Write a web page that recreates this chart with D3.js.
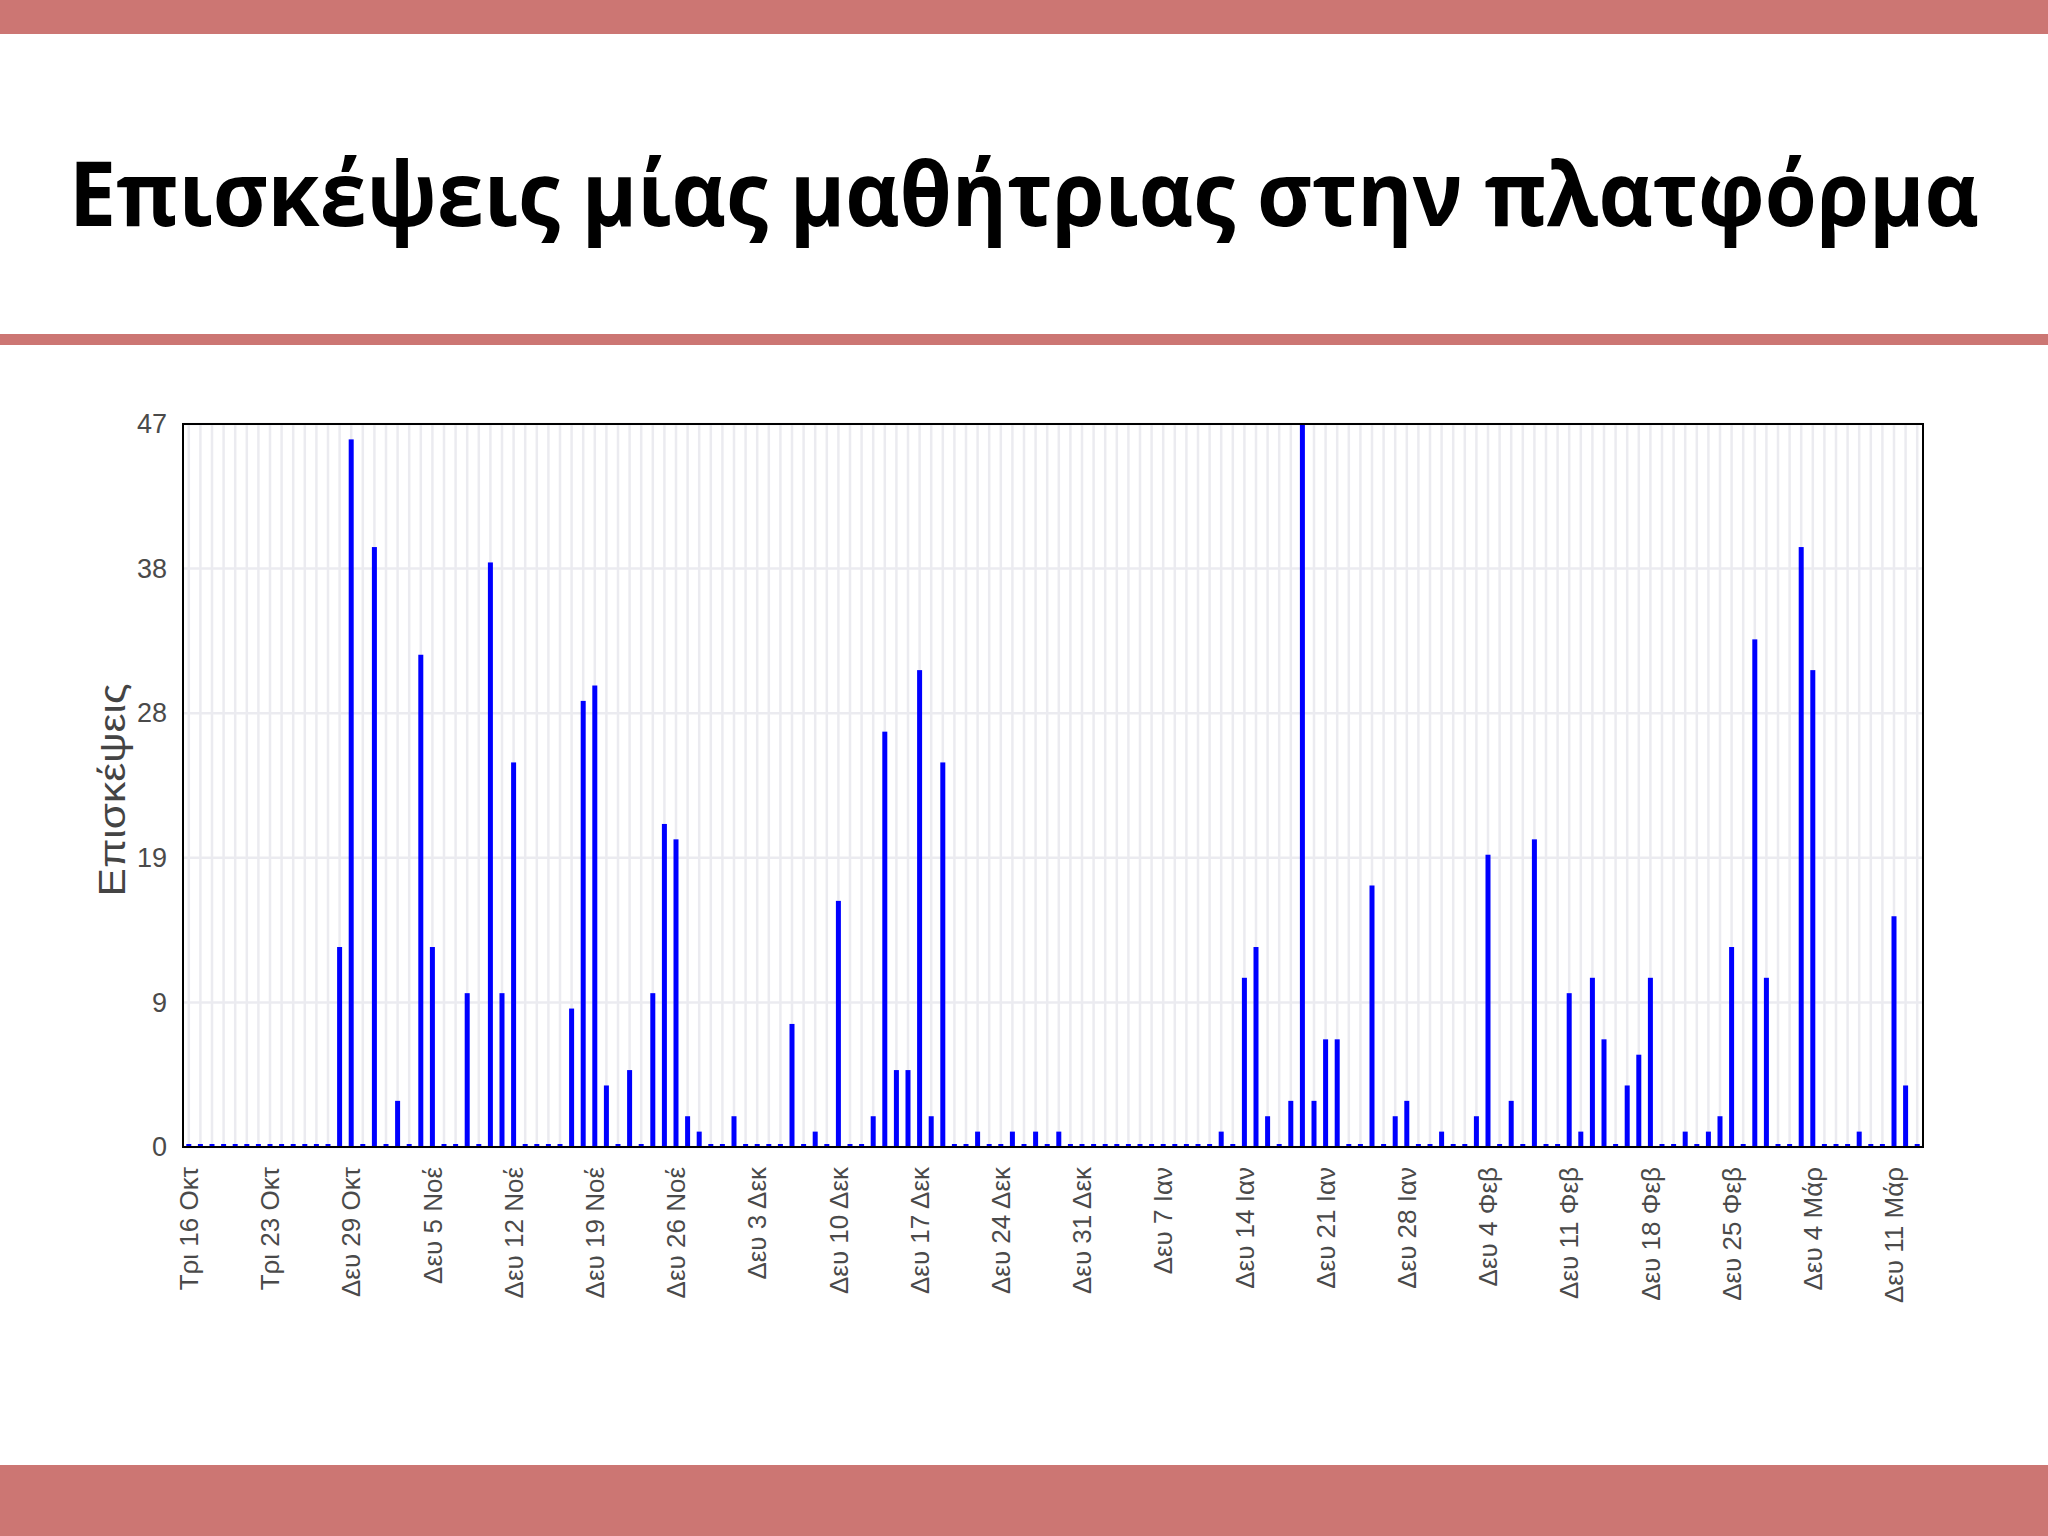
<!DOCTYPE html>
<html>
<head>
<meta charset="utf-8">
<script src="https://cdn.jsdelivr.net/npm/d3@7"></script>
<style>
	body { margin: 0; background: #fff; }
	svg { display: block; }
</style>
</head>
<body>
<div class="slide"></div>
<script>

// one value per day, Tue 16 Oct 2012 .. Wed 13 Mar 2013
const visits = [
	0, 0, 0, 0, 0, 0, 0, 0, 0, 0, 0, 0, 0, 13, 46, 0, 39, 0, 3, 0,
	32, 13, 0, 0, 10, 0, 38, 10, 25, 0, 0, 0, 0, 9, 29, 30, 4, 0, 5, 0,
	10, 21, 20, 2, 1, 0, 0, 2, 0, 0, 0, 0, 8, 0, 1, 0, 16, 0, 0, 2,
	27, 5, 5, 31, 2, 25, 0, 0, 1, 0, 0, 1, 0, 1, 0, 1, 0, 0, 0, 0,
	0, 0, 0, 0, 0, 0, 0, 0, 0, 1, 0, 11, 13, 2, 0, 3, 47, 3, 7, 7,
	0, 0, 17, 0, 2, 3, 0, 0, 1, 0, 0, 2, 19, 0, 3, 0, 20, 0, 0, 10,
	1, 11, 7, 0, 4, 6, 11, 0, 0, 1, 0, 1, 2, 13, 0, 33, 11, 0, 0, 39,
	31, 0, 0, 0, 1, 0, 0, 15, 4, 0
];

const tickLabels = [
	'Τρι 16 Οκτ', 'Τρι 23 Οκτ', 'Δευ 29 Οκτ', 'Δευ 5 Νοέ', 'Δευ 12 Νοέ',
	'Δευ 19 Νοέ', 'Δευ 26 Νοέ', 'Δευ 3 Δεκ', 'Δευ 10 Δεκ', 'Δευ 17 Δεκ',
	'Δευ 24 Δεκ', 'Δευ 31 Δεκ', 'Δευ 7 Ιαν', 'Δευ 14 Ιαν', 'Δευ 21 Ιαν',
	'Δευ 28 Ιαν', 'Δευ 4 Φεβ', 'Δευ 11 Φεβ', 'Δευ 18 Φεβ', 'Δευ 25 Φεβ',
	'Δευ 4 Μάρ', 'Δευ 11 Μάρ'
];

const yTicks = [0, 9.4, 18.8, 28.2, 37.6, 47];
const yMax = 47;

const title = 'Επισκέψεις μίας μαθήτριας στην πλατφόρμα';
const yTitle = 'Επισκέψεις';

const W = 2048;
const H = 1536;
const band = '#cc7673';

const svg = d3.select('.slide').append('svg')
	.attr('width', W)
	.attr('height', H);

// slide decoration
svg.append('rect').attr('x', 0).attr('y', 0).attr('width', W).attr('height', 34).attr('fill', band);
svg.append('rect').attr('x', 0).attr('y', 334).attr('width', W).attr('height', 11).attr('fill', band);
svg.append('rect').attr('x', 0).attr('y', 1465).attr('width', W).attr('height', 71).attr('fill', band);

const titleText = svg.append('text')
	.text(title)
	.attr('text-anchor', 'middle')
	.style('font-family', '"Open Sans", "Noto Sans", sans-serif')
	.style('font-weight', 700)
	.style('font-size', '90px')
	.attr('fill', '#000');

// squeeze the title sideways to the width it has on the slide
const titleW = titleText.node().getComputedTextLength();
titleText.attr('transform', `translate(${W / 2},226) scale(${Math.min(1, 1910 / titleW)},1)`);

// chart
const plotLeft = 183, plotRight = 1923, plotTop = 424, plotBottom = 1147;
const width = plotRight - plotLeft;
const height = plotBottom - plotTop;

const days = d3.range(visits.length);

const x = d3.scaleBand()
	.domain(days)
	.range([0, width]);

const y = d3.scaleLinear()
	.domain([0, yMax])
	.range([height, 0]);

const g = svg.append('g')
	.attr('transform', `translate(${plotLeft},${plotTop})`);

const gridColor = '#ebebf0';

g.selectAll('.vgrid')
	.data(days)
	.enter()
	.append('line')
	.attr('x1', d => x(d) + x.bandwidth() / 2)
	.attr('x2', d => x(d) + x.bandwidth() / 2)
	.attr('y1', 0)
	.attr('y2', height)
	.attr('stroke', gridColor)
	.attr('stroke-width', 2.5)
	.attr('class', 'vgrid');

g.selectAll('.hgrid')
	.data(yTicks)
	.enter()
	.append('line')
	.attr('x1', 0)
	.attr('x2', width)
	.attr('y1', d => y(d))
	.attr('y2', d => y(d))
	.attr('stroke', gridColor)
	.attr('stroke-width', 2.5)
	.attr('class', 'hgrid');

g.selectAll('.bars')
	.data(visits)
	.enter()
	.append('rect')
	.attr('x', (d, i) => x(i) + x.bandwidth() / 2 - 2.5)
	.attr('width', 5)
	.attr('y', d => Math.min(y(d), height - 3))
	.attr('height', d => Math.max(height - y(d), 3))
	.attr('fill', '#0000ff')
	.attr('class', 'bars');

// frame
g.append('rect')
	.attr('x', 0)
	.attr('y', 0)
	.attr('width', width)
	.attr('height', height)
	.attr('fill', 'none')
	.attr('stroke', '#000')
	.attr('stroke-width', 2);

const yAxis = g.append('g')
	.call(d3.axisLeft(y).tickValues(yTicks).tickFormat(d3.format('.0f')).tickSize(0).tickPadding(16));
yAxis.select('.domain').remove();
yAxis.selectAll('text')
	.style('font-family', '"Liberation Sans", Arial, sans-serif')
	.style('font-size', '27px')
	.attr('fill', '#4a4a4a');

const weekTicks = days.filter(d => d % 7 === 0);

const xAxis = g.append('g')
	.attr('transform', `translate(0,${height})`)
	.call(d3.axisBottom(x).tickValues(weekTicks).tickFormat((d, i) => tickLabels[i]).tickSize(0));
xAxis.select('.domain').remove();
xAxis.selectAll('text')
	.attr('transform', 'rotate(-90)')
	.attr('x', -20)
	.attr('y', 0)
	.attr('dy', '0.35em')
	.attr('text-anchor', 'end')
	.style('font-family', '"Liberation Sans", Arial, sans-serif')
	.style('font-size', '26px')
	.attr('fill', '#4a4a4a');

svg.append('text')
	.text(yTitle)
	.attr('transform', 'translate(125,790) rotate(-90)')
	.attr('text-anchor', 'middle')
	.attr('textLength', 213)
	.attr('lengthAdjust', 'spacingAndGlyphs')
	.style('font-family', '"Liberation Sans", Arial, sans-serif')
	.style('font-size', '36px')
	.attr('fill', '#444');

</script>
</body>
</html>
